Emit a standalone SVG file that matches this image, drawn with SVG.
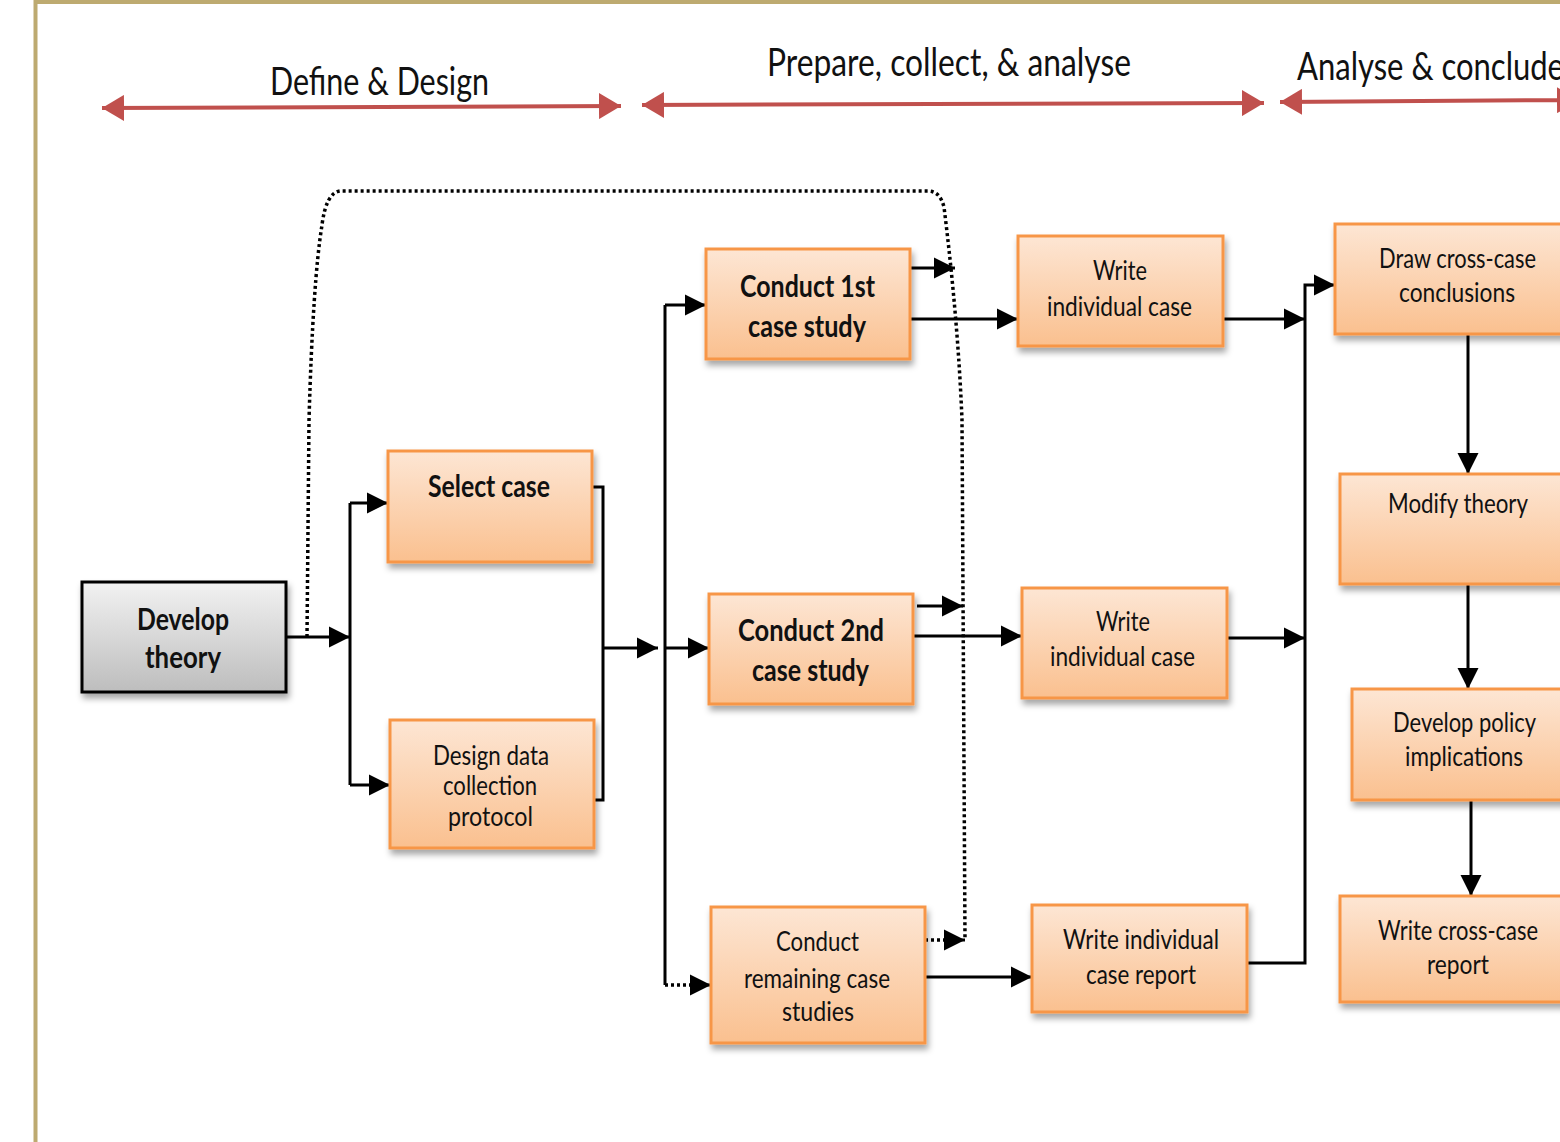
<svg xmlns="http://www.w3.org/2000/svg" width="1560" height="1142" viewBox="0 0 1560 1142">
<defs>
<style>
.hdr{font-family:Lato,"Liberation Sans",sans-serif;font-size:38px;fill:#111;}
.b{font-family:Lato,"Liberation Sans",sans-serif;font-size:30px;font-weight:bold;fill:#111;text-anchor:start;}
.r{font-family:Lato,"Liberation Sans",sans-serif;font-size:27px;fill:#111;text-anchor:start;}
.box{fill:url(#og);stroke:#F79646;stroke-width:3;filter:url(#sh);}
.gbox{fill:url(#gg);stroke:#000;stroke-width:3;filter:url(#sh);}
.c{fill:none;stroke:#000;stroke-width:3;}
.ca{fill:none;stroke:#000;stroke-width:3;marker-end:url(#ah);}
.d{fill:none;stroke:#000;stroke-width:3.5;stroke-dasharray:3 3;}
.ph{fill:none;stroke:#C0504D;stroke-width:4;marker-start:url(#rh);marker-end:url(#rh);}
</style>
<linearGradient id="og" x1="0" y1="0" x2="0" y2="1">
<stop offset="0" stop-color="#FDE6D4"/>
<stop offset="1" stop-color="#FAC08F"/>
</linearGradient>
<linearGradient id="gg" x1="0" y1="0" x2="0" y2="1">
<stop offset="0" stop-color="#F2F2F2"/>
<stop offset="1" stop-color="#BDBDBD"/>
</linearGradient>
<filter id="sh" x="-10%" y="-10%" width="125%" height="130%">
<feDropShadow dx="2" dy="5" stdDeviation="3" flood-color="#000" flood-opacity="0.35"/>
</filter>
<marker id="ah" viewBox="0 0 10 10" refX="10" refY="5" markerUnits="userSpaceOnUse" markerWidth="21" markerHeight="22" orient="auto">
<path d="M0,0 L10,5 L0,10 z" fill="#000"/>
</marker>
<marker id="rh" viewBox="0 0 22 26" refX="22" refY="13" markerUnits="userSpaceOnUse" markerWidth="22" markerHeight="26" orient="auto-start-reverse">
<path d="M0,0 L22,13 L0,26 z" fill="#C0504D"/>
</marker>
</defs>
<rect x="0" y="0" width="1560" height="1142" fill="#fff"/>
<rect x="35.5" y="2" width="1600" height="1200" fill="#fff" stroke="#BDAA70" stroke-width="4"/>

<g id="phases">
<path class="ph" d="M102,108 L621,106"/>
<text class="hdr" x="270" y="95" textLength="219" lengthAdjust="spacingAndGlyphs">Define &amp; Design</text>
<path class="ph" d="M642,105 L1264,103"/>
<text class="hdr" x="767" y="76" textLength="364" lengthAdjust="spacingAndGlyphs">Prepare, collect, &amp; analyse</text>
<path class="ph" d="M1280,102 L1579,100"/>
<text class="hdr" x="1297" y="80" textLength="267" lengthAdjust="spacingAndGlyphs">Analyse &amp; conclude</text>
</g>

<g id="connectors">
<path class="d" d="M307,637 L309,420 Q313,280 322,225 Q326,193 340,191 H928 Q940,191 944,207 Q958,320 962,420 L965,940"/>
<path class="ca" d="M286,637 H350"/>
<path class="c" d="M350,503 V785"/>
<path class="ca" d="M350,503 H388"/>
<path class="ca" d="M350,785 H390"/>
<path class="c" d="M592,487 H603 V800 H594"/>
<path class="ca" d="M603,648 H658"/>
<path class="c" d="M665,305 V985"/>
<path class="ca" d="M665,305 H706"/>
<path class="ca" d="M665,648 H709"/>
<path class="d" d="M665,985 H700"/>
<path class="ca" d="M695,985 H711"/>
<path class="ca" d="M910,268 H955"/>
<path class="ca" d="M910,319 H1018"/>
<path class="ca" d="M917,606 H963"/>
<path class="ca" d="M913,636 H1022"/>
<path class="d" d="M925,940 H950"/>
<path class="ca" d="M945,940 H965"/>
<path class="ca" d="M925,977 H1032"/>
<path class="ca" d="M1223,319 H1305"/>
<path class="ca" d="M1227,638 H1305"/>
<path class="ca" d="M1247,963 H1305 V285 H1335"/>
<path class="ca" d="M1468,334 V474"/>
<path class="ca" d="M1468,582 V689"/>
<path class="ca" d="M1471,800 V896"/>
</g>

<g id="develop-theory">
<rect class="gbox" x="82" y="582" width="204" height="110"/>
<text class="b" x="137" y="630" textLength="92" lengthAdjust="spacingAndGlyphs">Develop</text>
<text class="b" x="145" y="668" textLength="76" lengthAdjust="spacingAndGlyphs">theory</text>
</g>
<g id="select-case">
<rect class="box" x="388" y="451" width="204" height="111"/>
<text class="b" x="428" y="497" textLength="122" lengthAdjust="spacingAndGlyphs">Select case</text>
</g>
<g id="design-protocol">
<rect class="box" x="390" y="720" width="204" height="128"/>
<text class="r" x="433" y="765" textLength="116" lengthAdjust="spacingAndGlyphs">Design data</text>
<text class="r" x="443" y="795" textLength="94" lengthAdjust="spacingAndGlyphs">collection</text>
<text class="r" x="448" y="826" textLength="85" lengthAdjust="spacingAndGlyphs">protocol</text>
</g>
<g id="conduct-1st">
<rect class="box" x="706" y="249" width="204" height="110"/>
<text class="b" x="740" y="297" textLength="135" lengthAdjust="spacingAndGlyphs">Conduct 1st</text>
<text class="b" x="748" y="337" textLength="118" lengthAdjust="spacingAndGlyphs">case study</text>
</g>
<g id="conduct-2nd">
<rect class="box" x="709" y="594" width="204" height="110"/>
<text class="b" x="738" y="641" textLength="146" lengthAdjust="spacingAndGlyphs">Conduct 2nd</text>
<text class="b" x="752" y="681" textLength="117" lengthAdjust="spacingAndGlyphs">case study</text>
</g>
<g id="conduct-remaining">
<rect class="box" x="711" y="907" width="214" height="136"/>
<text class="r" x="776" y="951" textLength="83" lengthAdjust="spacingAndGlyphs">Conduct</text>
<text class="r" x="744" y="988" textLength="146" lengthAdjust="spacingAndGlyphs">remaining case</text>
<text class="r" x="782" y="1021" textLength="72" lengthAdjust="spacingAndGlyphs">studies</text>
</g>
<g id="write-case-1">
<rect class="box" x="1018" y="236" width="205" height="110"/>
<text class="r" x="1093" y="280" textLength="54" lengthAdjust="spacingAndGlyphs">Write</text>
<text class="r" x="1047" y="316" textLength="145" lengthAdjust="spacingAndGlyphs">individual case</text>
</g>
<g id="write-case-2">
<rect class="box" x="1022" y="588" width="205" height="110"/>
<text class="r" x="1096" y="631" textLength="54" lengthAdjust="spacingAndGlyphs">Write</text>
<text class="r" x="1050" y="666" textLength="145" lengthAdjust="spacingAndGlyphs">individual case</text>
</g>
<g id="write-case-report">
<rect class="box" x="1032" y="905" width="215" height="107"/>
<text class="r" x="1063" y="949" textLength="156" lengthAdjust="spacingAndGlyphs">Write individual</text>
<text class="r" x="1086" y="984" textLength="110" lengthAdjust="spacingAndGlyphs">case report</text>
</g>
<g id="draw-conclusions">
<rect class="box" x="1335" y="224" width="246" height="110"/>
<text class="r" x="1379" y="268" textLength="157" lengthAdjust="spacingAndGlyphs">Draw cross-case</text>
<text class="r" x="1399" y="302" textLength="116" lengthAdjust="spacingAndGlyphs">conclusions</text>
</g>
<g id="modify-theory">
<rect class="box" x="1340" y="474" width="236" height="110"/>
<text class="r" x="1388" y="513" textLength="140" lengthAdjust="spacingAndGlyphs">Modify theory</text>
</g>
<g id="policy-implications">
<rect class="box" x="1352" y="689" width="224" height="111"/>
<text class="r" x="1393" y="732" textLength="143" lengthAdjust="spacingAndGlyphs">Develop policy</text>
<text class="r" x="1405" y="766" textLength="118" lengthAdjust="spacingAndGlyphs">implications</text>
</g>
<g id="cross-case-report">
<rect class="box" x="1340" y="896" width="236" height="106"/>
<text class="r" x="1378" y="940" textLength="160" lengthAdjust="spacingAndGlyphs">Write cross-case</text>
<text class="r" x="1427" y="974" textLength="62" lengthAdjust="spacingAndGlyphs">report</text>
</g>
</svg>
